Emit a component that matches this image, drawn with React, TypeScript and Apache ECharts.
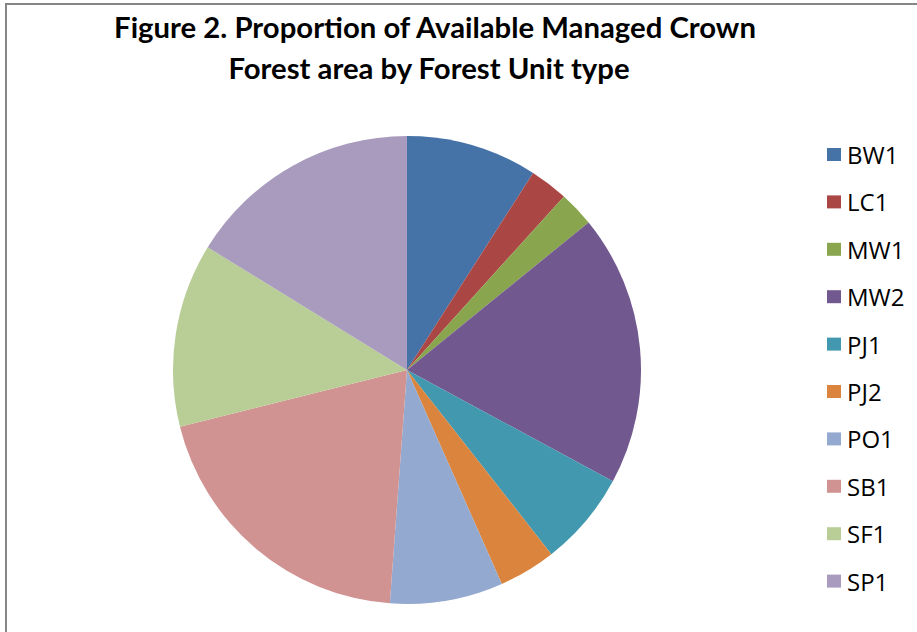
import React, { useEffect, useRef } from "react";
import * as echarts from "echarts";

const titleLines = [
  "Figure 2. Proportion of Available Managed Crown",
  "Forest area by Forest Unit type",
];
const categories = ["BW1", "LC1", "MW1", "MW2", "PJ1", "PJ2", "PO1", "SB1", "SF1", "SP1"];
const values = [9.06, 2.64, 2.44, 18.75, 6.53, 3.94, 7.81, 19.94, 12.67, 16.22];
const colors = [
  "#4572A7", "#AA4643", "#89A54E", "#71588F", "#4198AF",
  "#DB843D", "#93A9CF", "#D19392", "#B9CD97", "#A99BBD",
];

export default function App() {
  const ref = useRef<HTMLDivElement>(null);
  useEffect(() => {
    if (!ref.current) return;
    const chart = echarts.init(ref.current, undefined, { renderer: "svg" });
    chart.setOption({
      animation: false,
      backgroundColor: "#ffffff",
      color: colors,
      graphic: [
        { type: "line", shape: { x1: 5, y1: 4, x2: 917, y2: 4 }, style: { stroke: "#868686", lineWidth: 2 } },
        { type: "line", shape: { x1: 6, y1: 3, x2: 6, y2: 632 }, style: { stroke: "#868686", lineWidth: 2 } },
        {
          type: "text", x: 435, y: 26,
          style: { text: titleLines[0], fontFamily: "Lato", fontWeight: "bold", fontSize: 29.3, fill: "#000", align: "center", verticalAlign: "middle" },
        },
        {
          type: "text", x: 429, y: 67.5,
          style: { text: titleLines[1], fontFamily: "Lato", fontWeight: "bold", fontSize: 29.3, fill: "#000", align: "center", verticalAlign: "middle" },
        },
      ],
      legend: {
        orient: "vertical",
        left: 822,
        top: 137.5,
        icon: "rect",
        itemWidth: 14,
        itemHeight: 13,
        itemGap: 23.4,
        data: categories,
        textStyle: { fontFamily: "Open Sans", fontSize: 24, lineHeight: 24, color: "#000", padding: [0, 0, 0, 1] },
      },
      series: [
        {
          type: "pie",
          center: [407, 370],
          radius: 234,
          startAngle: 90,
          clockwise: true,
          label: { show: false },
          labelLine: { show: false },
          emphasis: { disabled: true },
          itemStyle: { borderWidth: 0 },
          data: categories.map((name, i) => ({ name, value: values[i] })),
        },
      ],
    });
    return () => chart.dispose();
  }, []);
  return <div ref={ref} style={{ position: "absolute", left: 0, top: 0, width: 917, height: 632 }} />;
}
